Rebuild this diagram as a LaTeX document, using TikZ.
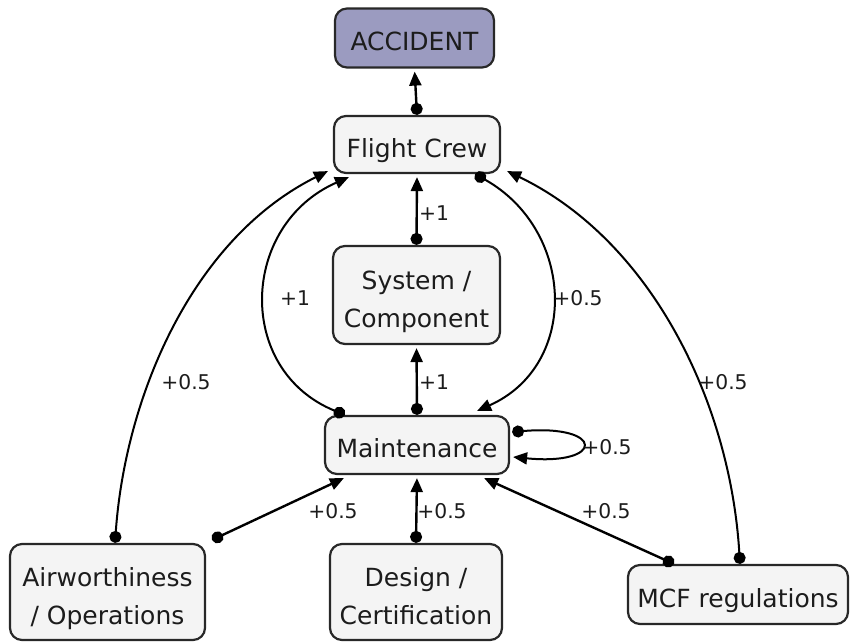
\documentclass[tikz,border=0pt]{standalone}
\usepackage{fontspec}
\setmainfont{DejaVu Sans}
\usetikzlibrary{arrows.meta}
\definecolor{boxfill}{RGB}{244,244,244}
\definecolor{boxline}{RGB}{40,40,40}
\definecolor{topfill}{RGB}{155,155,192}
\definecolor{ink}{RGB}{28,28,28}
\tikzset{
  box/.style={draw=boxline, line width=2.2pt, fill=boxfill, rounded corners=12pt,
    inner sep=0pt, align=center, text=ink, text depth=0pt, text height=25pt,
    font=\fontsize{25}{38}\selectfont},
  twoline/.style={text height=64pt},
  link/.style={draw=black, line width=2.4pt,
    {Circle[length=12pt,width=12pt]}-{Triangle[length=14pt,width=12pt]}},
  curvelink/.style={link, line width=2pt},
  lbl/.style={text=ink, inner sep=0pt, font=\fontsize{20.3}{22}\selectfont}
}
\begin{document}
\begin{tikzpicture}[x=1pt,y=-1pt]
\useasboundingbox (0,0) rectangle (854,642);

% boxes
\node[box, fill=topfill, minimum width=159pt, minimum height=59pt] (acc) at (414.5,38) {ACCIDENT};
\node[box, minimum width=166pt, minimum height=57pt] (fc) at (417,144.5) {Flight Crew};
\node[box, twoline, minimum width=167pt, minimum height=98pt] (sys) at (416.5,295) {System /\\Component};
\node[box, minimum width=184pt, minimum height=58pt] (mnt) at (417,445) {Maintenance};
\node[box, twoline, minimum width=195pt, minimum height=96pt] (air) at (107.5,592) {Airworthiness\\/ Operations};
\node[box, twoline, minimum width=172pt, minimum height=96pt] (des) at (416,592) {Design /\\Certification};
\node[box, minimum width=220pt, minimum height=59pt] (mcf) at (738,594.5) {MCF regulations};

% straight links
\draw[link, shorten >=3pt] (fc.north) -- (acc.south);
\draw[link, shorten >=3pt] (sys.north) -- (fc.south);
\draw[link, shorten >=3pt] (mnt.north) -- (sys.south);
\draw[link, shorten >=3pt] (des.north) -- (mnt.south);
\draw[link] ([shift={(6,-3)}]air.north east) -- ([shift={(20,3)}]mnt.south west);
\draw[link] ([xshift=47pt]mcf.north west) -- ([shift={(-26,3)}]mnt.south east);

% curved links into the flight crew box
\draw[curvelink] ([xshift=7.5pt]air.north) .. controls (125,400) and (190,240) .. ([shift={(-5,-3)}]fc.south west);
\draw[curvelink] ([xshift=2pt]mcf.north) .. controls (730,400) and (650,240) .. ([shift={(6,-3)}]fc.south east);
\draw[curvelink] ([xshift=21pt]mnt.north west) .. controls (235,370) and (240,225) .. ([shift={(16,3)}]fc.south west);
\draw[curvelink] ([xshift=-26pt]fc.south east) .. controls (575,230) and (580,365) .. ([shift={(-33,-4)}]mnt.north east);

% self loop on maintenance
\draw[curvelink] ([shift={(2,-13)}]mnt.east) .. controls (605,424) and (605,466) .. ([shift={(3,12)}]mnt.east);

% weights
\node[lbl] (w1) at (434,213) {+1};
\node[lbl] (w2) at (434,382) {+1};
\node[lbl] (w3) at (295,298) {+1};
\node[lbl] (w4) at (578,298) {+0.5};
\node[lbl] (w5) at (186,382) {+0.5};
\node[lbl] (w6) at (723,382) {+0.5};
\node[lbl] (w7) at (607,447) {+0.5};
\node[lbl] (w8) at (333,511) {+0.5};
\node[lbl] (w9) at (442,511) {+0.5};
\node[lbl] (w10) at (606,511) {+0.5};
\end{tikzpicture}
\end{document}
